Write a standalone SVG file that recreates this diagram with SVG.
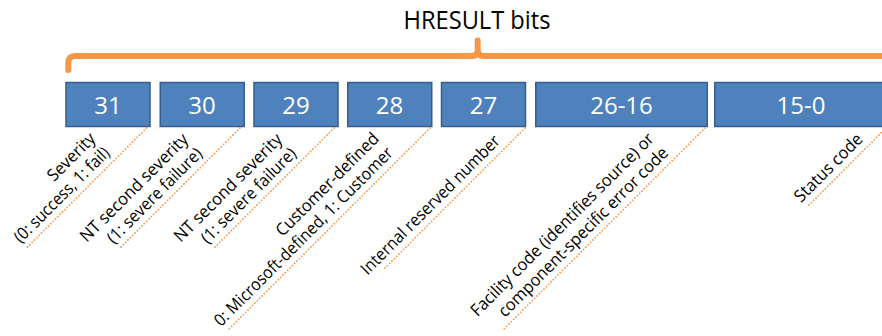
<svg xmlns="http://www.w3.org/2000/svg" width="882" height="336" viewBox="0 0 882 336">
  <style>
    .box { fill: #4F81BD; stroke: #385D8A; stroke-width: 1.5; }
    .num { font-family: "Open Sans", "Noto Sans", "DejaVu Sans", sans-serif; font-size: 24px; fill: #ffffff; text-anchor: middle; }
    .title { font-family: "Open Sans", "Noto Sans", "DejaVu Sans", sans-serif; font-size: 25px; fill: #000000; text-anchor: middle; }
    .lbl { font-family: "Open Sans", "Noto Sans", "DejaVu Sans", sans-serif; font-size: 17px; fill: #000000; text-anchor: end; }
    .brace { fill: none; stroke: #F79646; stroke-width: 6; stroke-linecap: round; stroke-linejoin: round; }
    .leader { fill: none; stroke: #F79646; stroke-width: 1.8; stroke-linecap: round; stroke-dasharray: 0 3.3; }
  </style>

  <rect width="882" height="336" fill="#ffffff"/>

  <!-- heading -->
  <g id="title">
    <text class="title" x="477" y="28.5" textLength="147" lengthAdjust="spacingAndGlyphs">HRESULT bits</text>
  </g>

  <!-- brace spanning all fields -->
  <g id="brace">
    <path class="brace" d="M68.3 70 V63 Q68.3 56 75.3 56 H472 Q477.7 56 477.7 50 V40.5 M477.7 50 Q477.7 56 483.4 56 H892"/>
  </g>

  <!-- bit fields -->
  <g id="bit31">
    <rect class="box" x="66" y="82.5" width="84" height="44"/>
    <text class="num" x="108" y="113.5">31</text>
    <g transform="translate(26.5 248) rotate(-45)">
      <text class="lbl" x="126" y="-27" textLength="60" lengthAdjust="spacingAndGlyphs">Severity</text>
      <text class="lbl" x="126" y="-7" textLength="127" lengthAdjust="spacingAndGlyphs">(0: success, 1: fail)</text>
    </g>
  </g>
  <g id="bit30">
    <rect class="box" x="160.25" y="82.5" width="84" height="44"/>
    <text class="num" x="202" y="113.5">30</text>
    <g transform="translate(120 248) rotate(-45)">
      <text class="lbl" x="125" y="-27" textLength="145" lengthAdjust="spacingAndGlyphs">NT second severity</text>
      <text class="lbl" x="125" y="-7" textLength="127" lengthAdjust="spacingAndGlyphs">(1: severe failure)</text>
    </g>
  </g>
  <g id="bit29">
    <rect class="box" x="254" y="82.5" width="84" height="44"/>
    <text class="num" x="296" y="113.5">29</text>
    <g transform="translate(214 248) rotate(-45)">
      <text class="lbl" x="125" y="-27" textLength="145" lengthAdjust="spacingAndGlyphs">NT second severity</text>
      <text class="lbl" x="125" y="-7" textLength="127" lengthAdjust="spacingAndGlyphs">(1: severe failure)</text>
    </g>
  </g>
  <g id="bit28">
    <rect class="box" x="347.75" y="82.5" width="84" height="44"/>
    <text class="num" x="389.5" y="113.5">28</text>
    <g transform="translate(228 330) rotate(-45)">
      <text class="lbl" x="242" y="-27" textLength="138" lengthAdjust="spacingAndGlyphs">Customer-defined</text>
      <text class="lbl" x="242" y="-7" textLength="245" lengthAdjust="spacingAndGlyphs">0: Microsoft-defined, 1: Customer</text>
    </g>
  </g>
  <g id="bit27">
    <rect class="box" x="441.5" y="82.5" width="84" height="44"/>
    <text class="num" x="483.5" y="113.5">27</text>
    <g transform="translate(383 270) rotate(-45)">
      <text class="lbl" x="174" y="-7" textLength="189" lengthAdjust="spacingAndGlyphs">Internal reserved number</text>
    </g>
  </g>
  <g id="bits26-16">
    <rect class="box" x="535.75" y="82.5" width="171.5" height="44"/>
    <text class="num" x="621.5" y="113.5">26-16</text>
    <g transform="translate(503 330) rotate(-45)">
      <text class="lbl" x="242" y="-27" textLength="251" lengthAdjust="spacingAndGlyphs">Facility code (identifies source) or</text>
      <text class="lbl" x="242" y="-7" textLength="232" lengthAdjust="spacingAndGlyphs">component-specific error code</text>
    </g>
  </g>
  <g id="bits15-0">
    <rect class="box" x="714.75" y="82.5" width="174" height="44"/>
    <text class="num" x="801" y="113.5">15-0</text>
    <g transform="translate(808 206) rotate(-45)">
      <text class="lbl" x="86" y="-7" textLength="89" lengthAdjust="spacingAndGlyphs">Status code</text>
    </g>
  </g>

  <!-- dotted leaders from each field to its description -->
  <g id="connectors">
    <line class="leader" x1="146.5" y1="128" x2="26.5" y2="248"/>
    <line class="leader" x1="240" y1="128" x2="120" y2="248"/>
    <line class="leader" x1="334" y1="128" x2="214" y2="248"/>
    <line class="leader" x1="430" y1="128" x2="228" y2="330"/>
    <line class="leader" x1="525" y1="128" x2="383" y2="270"/>
    <line class="leader" x1="705" y1="128" x2="503" y2="330"/>
    <line class="leader" x1="886" y1="128" x2="808" y2="206"/>
  </g>
</svg>
